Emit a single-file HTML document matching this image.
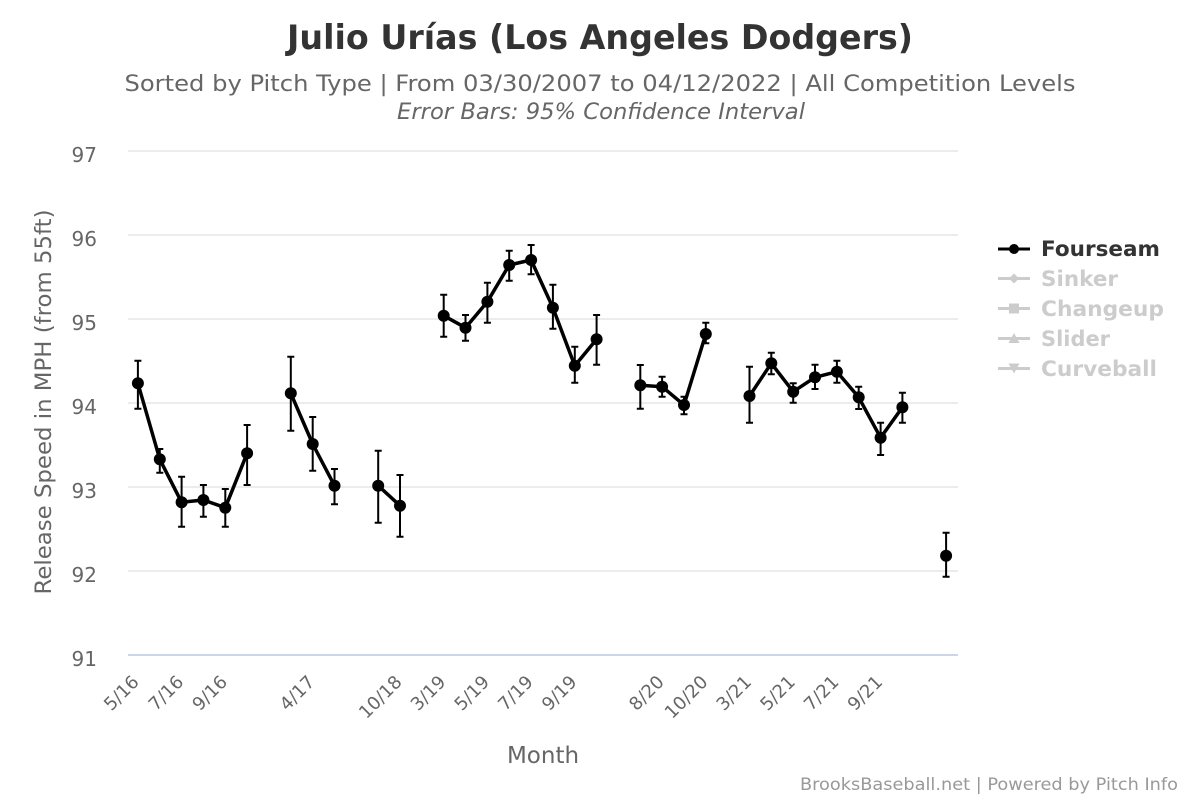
<!DOCTYPE html>
<html><head><meta charset="utf-8"><style>
html,body{margin:0;padding:0;background:#fff;}
svg{display:block;font-family:"DejaVu Sans","Liberation Sans",sans-serif;}
</style></head><body>
<svg width="1200" height="800" viewBox="0 0 1200 800" xmlns="http://www.w3.org/2000/svg">
<rect width="1200" height="800" fill="#fff"/>
<text x="600" y="49" text-anchor="middle" font-size="34" font-weight="bold" fill="#333" textLength="626" lengthAdjust="spacingAndGlyphs">Julio Urías (Los Angeles Dodgers)</text>
<text x="600" y="91" text-anchor="middle" font-size="22" fill="#666" textLength="951" lengthAdjust="spacingAndGlyphs">Sorted by Pitch Type | From 03/30/2007 to 04/12/2022 | All Competition Levels</text>
<text x="601" y="119" text-anchor="middle" font-size="22" font-style="italic" fill="#666" textLength="408" lengthAdjust="spacingAndGlyphs">Error Bars: 95% Confidence Interval</text>
<g stroke="#e6e6e6" stroke-width="1.5">
<line x1="128" y1="151" x2="958" y2="151"/>
<line x1="128" y1="235" x2="958" y2="235"/>
<line x1="128" y1="319" x2="958" y2="319"/>
<line x1="128" y1="403" x2="958" y2="403"/>
<line x1="128" y1="487" x2="958" y2="487"/>
<line x1="128" y1="571" x2="958" y2="571"/>
</g>
<line x1="128" y1="655" x2="958" y2="655" stroke="#ccd6eb" stroke-width="2"/>
<g font-size="20" fill="#666" text-anchor="end">
<text x="97" y="162">97</text>
<text x="97" y="246">96</text>
<text x="97" y="330">95</text>
<text x="97" y="414">94</text>
<text x="97" y="498">93</text>
<text x="97" y="582">92</text>
<text x="97" y="666">91</text>
</g>
<text transform="translate(51,402) rotate(-90)" text-anchor="middle" font-size="22" fill="#666" textLength="385" lengthAdjust="spacingAndGlyphs">Release Speed in MPH (from 55ft)</text>
<g font-size="18" fill="#666" text-anchor="end">
<text transform="translate(140,683) rotate(-45)">5/16</text>
<text transform="translate(184.6,683) rotate(-45)">7/16</text>
<text transform="translate(228.3,683) rotate(-45)">9/16</text>
<text transform="translate(315.7,683) rotate(-45)">4/17</text>
<text transform="translate(403,683) rotate(-45)">10/18</text>
<text transform="translate(446.7,683) rotate(-45)">3/19</text>
<text transform="translate(490.4,683) rotate(-45)">5/19</text>
<text transform="translate(534.1,683) rotate(-45)">7/19</text>
<text transform="translate(577.8,683) rotate(-45)">9/19</text>
<text transform="translate(665.1,683) rotate(-45)">8/20</text>
<text transform="translate(708.8,683) rotate(-45)">10/20</text>
<text transform="translate(752.5,683) rotate(-45)">3/21</text>
<text transform="translate(796.2,683) rotate(-45)">5/21</text>
<text transform="translate(839.9,683) rotate(-45)">7/21</text>
<text transform="translate(883.6,683) rotate(-45)">9/21</text>
</g>
<text x="543" y="763" text-anchor="middle" font-size="23" fill="#666">Month</text>
<g fill="none" stroke="#000" stroke-width="3.5" stroke-linejoin="round">
<polyline points="137.9,383.3 159.8,459.3 181.6,502.3 203.4,500 225.3,507.7 247.1,453.3"/>
<polyline points="290.8,393.3 312.7,444 334.5,485.7"/>
<polyline points="378.2,485.7 400,505.7"/>
<polyline points="443.7,315.7 465.5,327.7 487.4,301.7 509.2,265 531.1,260 552.9,307.7 574.8,365.7 596.6,339.3"/>
<polyline points="640.3,385.3 662.1,386.7 684,405 705.8,334"/>
<polyline points="749.5,396 771.3,363.3 793.2,391.7 815,377.3 836.9,371.7 858.7,397.3 880.6,437.7 902.4,407.3"/>
</g>
<g fill="#000">
<circle cx="137.9" cy="383.3" r="6"/><circle cx="159.8" cy="459.3" r="6"/><circle cx="181.6" cy="502.3" r="6"/><circle cx="203.4" cy="500" r="6"/><circle cx="225.3" cy="507.7" r="6"/><circle cx="247.1" cy="453.3" r="6"/>
<circle cx="290.8" cy="393.3" r="6"/><circle cx="312.7" cy="444" r="6"/><circle cx="334.5" cy="485.7" r="6"/>
<circle cx="378.2" cy="485.7" r="6"/><circle cx="400" cy="505.7" r="6"/>
<circle cx="443.7" cy="315.7" r="6"/><circle cx="465.5" cy="327.7" r="6"/><circle cx="487.4" cy="301.7" r="6"/><circle cx="509.2" cy="265" r="6"/><circle cx="531.1" cy="260" r="6"/><circle cx="552.9" cy="307.7" r="6"/><circle cx="574.8" cy="365.7" r="6"/><circle cx="596.6" cy="339.3" r="6"/>
<circle cx="640.3" cy="385.3" r="6"/><circle cx="662.1" cy="386.7" r="6"/><circle cx="684" cy="405" r="6"/><circle cx="705.8" cy="334" r="6"/>
<circle cx="749.5" cy="396" r="6"/><circle cx="771.3" cy="363.3" r="6"/><circle cx="793.2" cy="391.7" r="6"/><circle cx="815" cy="377.3" r="6"/><circle cx="836.9" cy="371.7" r="6"/><circle cx="858.7" cy="397.3" r="6"/><circle cx="880.6" cy="437.7" r="6"/><circle cx="902.4" cy="407.3" r="6"/>
<circle cx="946.1" cy="555.7" r="6"/>
</g>
<g stroke="#000" stroke-width="2" fill="none">
<path d="M137.9,360.7V408.7M134.4,360.7H141.4M134.4,408.7H141.4"/>
<path d="M159.8,449V472.7M156.3,449H163.3M156.3,472.7H163.3"/>
<path d="M181.6,476.7V526.7M178.1,476.7H185.1M178.1,526.7H185.1"/>
<path d="M203.4,485V516.7M199.9,485H206.9M199.9,516.7H206.9"/>
<path d="M225.3,489V526.7M221.8,489H228.8M221.8,526.7H228.8"/>
<path d="M247.1,425V485M243.6,425H250.6M243.6,485H250.6"/>
<path d="M290.8,356.7V430.7M287.3,356.7H294.3M287.3,430.7H294.3"/>
<path d="M312.7,417V470.7M309.2,417H316.2M309.2,470.7H316.2"/>
<path d="M334.5,469V504.3M331,469H338M331,504.3H338"/>
<path d="M378.2,450.7V522.7M374.7,450.7H381.7M374.7,522.7H381.7"/>
<path d="M400,475V536.7M396.5,475H403.5M396.5,536.7H403.5"/>
<path d="M443.7,294.7V336.7M440.2,294.7H447.2M440.2,336.7H447.2"/>
<path d="M465.5,315V340.7M462,315H469M462,340.7H469"/>
<path d="M487.4,282.7V322.7M483.9,282.7H490.9M483.9,322.7H490.9"/>
<path d="M509.2,250.7V280.7M505.7,250.7H512.7M505.7,280.7H512.7"/>
<path d="M531.1,245V274.3M527.6,245H534.6M527.6,274.3H534.6"/>
<path d="M552.9,284.7V328.7M549.4,284.7H556.4M549.4,328.7H556.4"/>
<path d="M574.8,346.7V382.7M571.3,346.7H578.3M571.3,382.7H578.3"/>
<path d="M596.6,315V364.7M593.1,315H600.1M593.1,364.7H600.1"/>
<path d="M640.3,365V408.7M636.8,365H643.8M636.8,408.7H643.8"/>
<path d="M662.1,376.7V396.7M658.6,376.7H665.6M658.6,396.7H665.6"/>
<path d="M684,396.7V414.3M680.5,396.7H687.5M680.5,414.3H687.5"/>
<path d="M705.8,322.7V343.3M702.3,322.7H709.3M702.3,343.3H709.3"/>
<path d="M749.5,366.7V422.7M746,366.7H753M746,422.7H753"/>
<path d="M771.3,352.7V374.3M767.8,352.7H774.8M767.8,374.3H774.8"/>
<path d="M793.2,383.3V402.7M789.7,383.3H796.7M789.7,402.7H796.7"/>
<path d="M815,364.7V389M811.5,364.7H818.5M811.5,389H818.5"/>
<path d="M836.9,360.7V382.7M833.4,360.7H840.4M833.4,382.7H840.4"/>
<path d="M858.7,386.7V409M855.2,386.7H862.2M855.2,409H862.2"/>
<path d="M880.6,422.7V455M877.1,422.7H884.1M877.1,455H884.1"/>
<path d="M902.4,392.7V422.7M898.9,392.7H905.9M898.9,422.7H905.9"/>
<path d="M946.1,532.7V576.7M942.6,532.7H949.6M942.6,576.7H949.6"/>
</g>
<g>
<line x1="998" y1="249" x2="1030" y2="249" stroke="#000" stroke-width="3"/>
<circle cx="1014" cy="249" r="5" fill="#000"/>
<text x="1041" y="256" font-size="21" font-weight="bold" fill="#333" textLength="119" lengthAdjust="spacingAndGlyphs">Fourseam</text>
<line x1="998" y1="278.5" x2="1030" y2="278.5" stroke="#ccc" stroke-width="3"/>
<path d="M1014,273.5L1019,278.5L1014,283.5L1009,278.5Z" fill="#ccc"/>
<text x="1041" y="286" font-size="21" font-weight="bold" fill="#ccc" textLength="77" lengthAdjust="spacingAndGlyphs">Sinker</text>
<line x1="998" y1="308.5" x2="1030" y2="308.5" stroke="#ccc" stroke-width="3"/>
<rect x="1009" y="303.5" width="10" height="10" fill="#ccc"/>
<text x="1041" y="316" font-size="21" font-weight="bold" fill="#ccc" textLength="123" lengthAdjust="spacingAndGlyphs">Changeup</text>
<line x1="998" y1="338.5" x2="1030" y2="338.5" stroke="#ccc" stroke-width="3"/>
<path d="M1014,333L1019.5,343L1008.5,343Z" fill="#ccc"/>
<text x="1041" y="346" font-size="21" font-weight="bold" fill="#ccc" textLength="69" lengthAdjust="spacingAndGlyphs">Slider</text>
<line x1="998" y1="368.5" x2="1030" y2="368.5" stroke="#ccc" stroke-width="3"/>
<path d="M1008.5,363.5L1019.5,363.5L1014,373.5Z" fill="#ccc"/>
<text x="1041" y="376" font-size="21" font-weight="bold" fill="#ccc" textLength="116" lengthAdjust="spacingAndGlyphs">Curveball</text>
</g>
<text x="1178" y="790" text-anchor="end" font-size="17" fill="#999" textLength="378" lengthAdjust="spacingAndGlyphs">BrooksBaseball.net | Powered by Pitch Info</text>
</svg>
</body></html>
